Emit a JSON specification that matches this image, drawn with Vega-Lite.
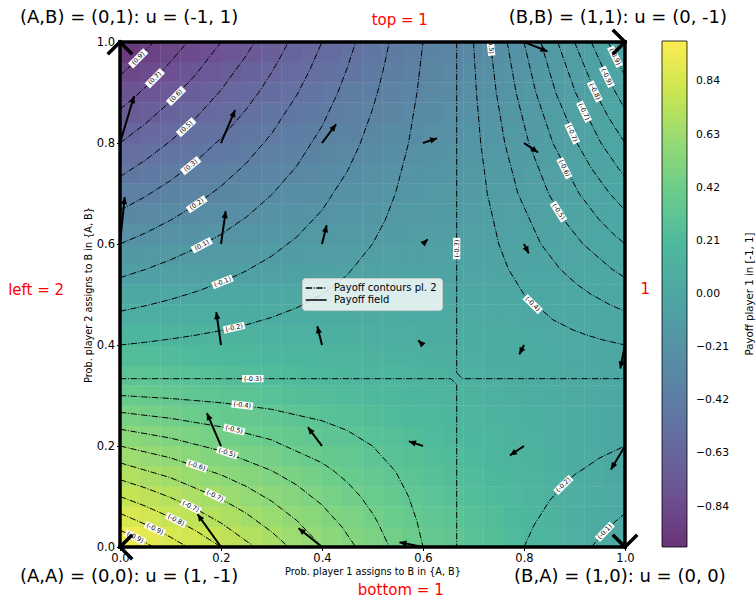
{
"$schema": "https://vega.github.io/schema/vega-lite/v6.json",
"width": 505, "height": 505,
"autosize": {"type": "none"},
"padding": {"left": 120, "top": 42, "right": 131, "bottom": 53},
"background": "white",
"config": {"font": "DejaVu Sans", "view": {"stroke": null},
 "axis": {"domain": false, "grid": false, "ticks": true, "tickSize": 3.5, "tickColor": "black", "labelFontSize": 11.5, "labelColor": "black", "titleFontSize": 9.7, "titleFontWeight": "normal", "titleColor": "black", "labelPadding": 2, "titlePadding": 2, "labelOverlap": false}},
"datasets": {
"heat": [
{"p":0.02,"q":0.02,"u":0.94},{"p":0.06,"q":0.02,"u":0.9},{"p":0.1,"q":0.02,"u":0.86},{"p":0.14,"q":0.02,"u":0.83},{"p":0.18,"q":0.02,"u":0.79},{"p":0.22,"q":0.02,"u":0.75},{"p":0.26,"q":0.02,"u":0.71},{"p":0.3,"q":0.02,"u":0.67},{"p":0.34,"q":0.02,"u":0.63},{"p":0.38,"q":0.02,"u":0.6},{"p":0.42,"q":0.02,"u":0.56},{"p":0.46,"q":0.02,"u":0.52},{"p":0.5,"q":0.02,"u":0.48},{"p":0.54,"q":0.02,"u":0.44},{"p":0.58,"q":0.02,"u":0.4},{"p":0.62,"q":0.02,"u":0.36},{"p":0.66,"q":0.02,"u":0.33},{"p":0.7,"q":0.02,"u":0.29},{"p":0.74,"q":0.02,"u":0.25},{"p":0.78,"q":0.02,"u":0.21},{"p":0.82,"q":0.02,"u":0.17},{"p":0.86,"q":0.02,"u":0.13},{"p":0.9,"q":0.02,"u":0.1},{"p":0.94,"q":0.02,"u":0.06},{"p":0.98,"q":0.02,"u":0.02},
{"p":0.02,"q":0.06,"u":0.86},{"p":0.06,"q":0.06,"u":0.83},{"p":0.1,"q":0.06,"u":0.79},{"p":0.14,"q":0.06,"u":0.76},{"p":0.18,"q":0.06,"u":0.72},{"p":0.22,"q":0.06,"u":0.69},{"p":0.26,"q":0.06,"u":0.65},{"p":0.3,"q":0.06,"u":0.62},{"p":0.34,"q":0.06,"u":0.58},{"p":0.38,"q":0.06,"u":0.55},{"p":0.42,"q":0.06,"u":0.51},{"p":0.46,"q":0.06,"u":0.48},{"p":0.5,"q":0.06,"u":0.44},{"p":0.54,"q":0.06,"u":0.4},{"p":0.58,"q":0.06,"u":0.37},{"p":0.62,"q":0.06,"u":0.33},{"p":0.66,"q":0.06,"u":0.3},{"p":0.7,"q":0.06,"u":0.26},{"p":0.74,"q":0.06,"u":0.23},{"p":0.78,"q":0.06,"u":0.19},{"p":0.82,"q":0.06,"u":0.16},{"p":0.86,"q":0.06,"u":0.12},{"p":0.9,"q":0.06,"u":0.09},{"p":0.94,"q":0.06,"u":0.05},{"p":0.98,"q":0.06,"u":0.02},
{"p":0.02,"q":0.1,"u":0.78},{"p":0.06,"q":0.1,"u":0.75},{"p":0.1,"q":0.1,"u":0.72},{"p":0.14,"q":0.1,"u":0.69},{"p":0.18,"q":0.1,"u":0.66},{"p":0.22,"q":0.1,"u":0.62},{"p":0.26,"q":0.1,"u":0.59},{"p":0.3,"q":0.1,"u":0.56},{"p":0.34,"q":0.1,"u":0.53},{"p":0.38,"q":0.1,"u":0.5},{"p":0.42,"q":0.1,"u":0.46},{"p":0.46,"q":0.1,"u":0.43},{"p":0.5,"q":0.1,"u":0.4},{"p":0.54,"q":0.1,"u":0.37},{"p":0.58,"q":0.1,"u":0.34},{"p":0.62,"q":0.1,"u":0.3},{"p":0.66,"q":0.1,"u":0.27},{"p":0.7,"q":0.1,"u":0.24},{"p":0.74,"q":0.1,"u":0.21},{"p":0.78,"q":0.1,"u":0.18},{"p":0.82,"q":0.1,"u":0.14},{"p":0.86,"q":0.1,"u":0.11},{"p":0.9,"q":0.1,"u":0.08},{"p":0.94,"q":0.1,"u":0.05},{"p":0.98,"q":0.1,"u":0.02},
{"p":0.02,"q":0.14,"u":0.71},{"p":0.06,"q":0.14,"u":0.68},{"p":0.1,"q":0.14,"u":0.65},{"p":0.14,"q":0.14,"u":0.62},{"p":0.18,"q":0.14,"u":0.59},{"p":0.22,"q":0.14,"u":0.56},{"p":0.26,"q":0.14,"u":0.53},{"p":0.3,"q":0.14,"u":0.5},{"p":0.34,"q":0.14,"u":0.48},{"p":0.38,"q":0.14,"u":0.45},{"p":0.42,"q":0.14,"u":0.42},{"p":0.46,"q":0.14,"u":0.39},{"p":0.5,"q":0.14,"u":0.36},{"p":0.54,"q":0.14,"u":0.33},{"p":0.58,"q":0.14,"u":0.3},{"p":0.62,"q":0.14,"u":0.27},{"p":0.66,"q":0.14,"u":0.24},{"p":0.7,"q":0.14,"u":0.22},{"p":0.74,"q":0.14,"u":0.19},{"p":0.78,"q":0.14,"u":0.16},{"p":0.82,"q":0.14,"u":0.13},{"p":0.86,"q":0.14,"u":0.1},{"p":0.9,"q":0.14,"u":0.07},{"p":0.94,"q":0.14,"u":0.04},{"p":0.98,"q":0.14,"u":0.01},
{"p":0.02,"q":0.18,"u":0.63},{"p":0.06,"q":0.18,"u":0.6},{"p":0.1,"q":0.18,"u":0.58},{"p":0.14,"q":0.18,"u":0.55},{"p":0.18,"q":0.18,"u":0.52},{"p":0.22,"q":0.18,"u":0.5},{"p":0.26,"q":0.18,"u":0.47},{"p":0.3,"q":0.18,"u":0.45},{"p":0.34,"q":0.18,"u":0.42},{"p":0.38,"q":0.18,"u":0.4},{"p":0.42,"q":0.18,"u":0.37},{"p":0.46,"q":0.18,"u":0.35},{"p":0.5,"q":0.18,"u":0.32},{"p":0.54,"q":0.18,"u":0.29},{"p":0.58,"q":0.18,"u":0.27},{"p":0.62,"q":0.18,"u":0.24},{"p":0.66,"q":0.18,"u":0.22},{"p":0.7,"q":0.18,"u":0.19},{"p":0.74,"q":0.18,"u":0.17},{"p":0.78,"q":0.18,"u":0.14},{"p":0.82,"q":0.18,"u":0.12},{"p":0.86,"q":0.18,"u":0.09},{"p":0.9,"q":0.18,"u":0.06},{"p":0.94,"q":0.18,"u":0.04},{"p":0.98,"q":0.18,"u":0.01},
{"p":0.02,"q":0.22,"u":0.55},{"p":0.06,"q":0.22,"u":0.53},{"p":0.1,"q":0.22,"u":0.5},{"p":0.14,"q":0.22,"u":0.48},{"p":0.18,"q":0.22,"u":0.46},{"p":0.22,"q":0.22,"u":0.44},{"p":0.26,"q":0.22,"u":0.41},{"p":0.3,"q":0.22,"u":0.39},{"p":0.34,"q":0.22,"u":0.37},{"p":0.38,"q":0.22,"u":0.35},{"p":0.42,"q":0.22,"u":0.32},{"p":0.46,"q":0.22,"u":0.3},{"p":0.5,"q":0.22,"u":0.28},{"p":0.54,"q":0.22,"u":0.26},{"p":0.58,"q":0.22,"u":0.24},{"p":0.62,"q":0.22,"u":0.21},{"p":0.66,"q":0.22,"u":0.19},{"p":0.7,"q":0.22,"u":0.17},{"p":0.74,"q":0.22,"u":0.15},{"p":0.78,"q":0.22,"u":0.12},{"p":0.82,"q":0.22,"u":0.1},{"p":0.86,"q":0.22,"u":0.08},{"p":0.9,"q":0.22,"u":0.06},{"p":0.94,"q":0.22,"u":0.03},{"p":0.98,"q":0.22,"u":0.01},
{"p":0.02,"q":0.26,"u":0.47},{"p":0.06,"q":0.26,"u":0.45},{"p":0.1,"q":0.26,"u":0.43},{"p":0.14,"q":0.26,"u":0.41},{"p":0.18,"q":0.26,"u":0.39},{"p":0.22,"q":0.26,"u":0.37},{"p":0.26,"q":0.26,"u":0.36},{"p":0.3,"q":0.26,"u":0.34},{"p":0.34,"q":0.26,"u":0.32},{"p":0.38,"q":0.26,"u":0.3},{"p":0.42,"q":0.26,"u":0.28},{"p":0.46,"q":0.26,"u":0.26},{"p":0.5,"q":0.26,"u":0.24},{"p":0.54,"q":0.26,"u":0.22},{"p":0.58,"q":0.26,"u":0.2},{"p":0.62,"q":0.26,"u":0.18},{"p":0.66,"q":0.26,"u":0.16},{"p":0.7,"q":0.26,"u":0.14},{"p":0.74,"q":0.26,"u":0.12},{"p":0.78,"q":0.26,"u":0.11},{"p":0.82,"q":0.26,"u":0.09},{"p":0.86,"q":0.26,"u":0.07},{"p":0.9,"q":0.26,"u":0.05},{"p":0.94,"q":0.26,"u":0.03},{"p":0.98,"q":0.26,"u":0.01},
{"p":0.02,"q":0.3,"u":0.39},{"p":0.06,"q":0.3,"u":0.38},{"p":0.1,"q":0.3,"u":0.36},{"p":0.14,"q":0.3,"u":0.34},{"p":0.18,"q":0.3,"u":0.33},{"p":0.22,"q":0.3,"u":0.31},{"p":0.26,"q":0.3,"u":0.3},{"p":0.3,"q":0.3,"u":0.28},{"p":0.34,"q":0.3,"u":0.26},{"p":0.38,"q":0.3,"u":0.25},{"p":0.42,"q":0.3,"u":0.23},{"p":0.46,"q":0.3,"u":0.22},{"p":0.5,"q":0.3,"u":0.2},{"p":0.54,"q":0.3,"u":0.18},{"p":0.58,"q":0.3,"u":0.17},{"p":0.62,"q":0.3,"u":0.15},{"p":0.66,"q":0.3,"u":0.14},{"p":0.7,"q":0.3,"u":0.12},{"p":0.74,"q":0.3,"u":0.1},{"p":0.78,"q":0.3,"u":0.09},{"p":0.82,"q":0.3,"u":0.07},{"p":0.86,"q":0.3,"u":0.06},{"p":0.9,"q":0.3,"u":0.04},{"p":0.94,"q":0.3,"u":0.02},{"p":0.98,"q":0.3,"u":0.01},
{"p":0.02,"q":0.34,"u":0.31},{"p":0.06,"q":0.34,"u":0.3},{"p":0.1,"q":0.34,"u":0.29},{"p":0.14,"q":0.34,"u":0.28},{"p":0.18,"q":0.34,"u":0.26},{"p":0.22,"q":0.34,"u":0.25},{"p":0.26,"q":0.34,"u":0.24},{"p":0.3,"q":0.34,"u":0.22},{"p":0.34,"q":0.34,"u":0.21},{"p":0.38,"q":0.34,"u":0.2},{"p":0.42,"q":0.34,"u":0.19},{"p":0.46,"q":0.34,"u":0.17},{"p":0.5,"q":0.34,"u":0.16},{"p":0.54,"q":0.34,"u":0.15},{"p":0.58,"q":0.34,"u":0.13},{"p":0.62,"q":0.34,"u":0.12},{"p":0.66,"q":0.34,"u":0.11},{"p":0.7,"q":0.34,"u":0.1},{"p":0.74,"q":0.34,"u":0.08},{"p":0.78,"q":0.34,"u":0.07},{"p":0.82,"q":0.34,"u":0.06},{"p":0.86,"q":0.34,"u":0.04},{"p":0.9,"q":0.34,"u":0.03},{"p":0.94,"q":0.34,"u":0.02},{"p":0.98,"q":0.34,"u":0.01},
{"p":0.02,"q":0.38,"u":0.24},{"p":0.06,"q":0.38,"u":0.23},{"p":0.1,"q":0.38,"u":0.22},{"p":0.14,"q":0.38,"u":0.21},{"p":0.18,"q":0.38,"u":0.2},{"p":0.22,"q":0.38,"u":0.19},{"p":0.26,"q":0.38,"u":0.18},{"p":0.3,"q":0.38,"u":0.17},{"p":0.34,"q":0.38,"u":0.16},{"p":0.38,"q":0.38,"u":0.15},{"p":0.42,"q":0.38,"u":0.14},{"p":0.46,"q":0.38,"u":0.13},{"p":0.5,"q":0.38,"u":0.12},{"p":0.54,"q":0.38,"u":0.11},{"p":0.58,"q":0.38,"u":0.1},{"p":0.62,"q":0.38,"u":0.09},{"p":0.66,"q":0.38,"u":0.08},{"p":0.7,"q":0.38,"u":0.07},{"p":0.74,"q":0.38,"u":0.06},{"p":0.78,"q":0.38,"u":0.05},{"p":0.82,"q":0.38,"u":0.04},{"p":0.86,"q":0.38,"u":0.03},{"p":0.9,"q":0.38,"u":0.02},{"p":0.94,"q":0.38,"u":0.01},{"p":0.98,"q":0.38,"u":0},
{"p":0.02,"q":0.42,"u":0.16},{"p":0.06,"q":0.42,"u":0.15},{"p":0.1,"q":0.42,"u":0.14},{"p":0.14,"q":0.42,"u":0.14},{"p":0.18,"q":0.42,"u":0.13},{"p":0.22,"q":0.42,"u":0.12},{"p":0.26,"q":0.42,"u":0.12},{"p":0.3,"q":0.42,"u":0.11},{"p":0.34,"q":0.42,"u":0.11},{"p":0.38,"q":0.42,"u":0.1},{"p":0.42,"q":0.42,"u":0.09},{"p":0.46,"q":0.42,"u":0.09},{"p":0.5,"q":0.42,"u":0.08},{"p":0.54,"q":0.42,"u":0.07},{"p":0.58,"q":0.42,"u":0.07},{"p":0.62,"q":0.42,"u":0.06},{"p":0.66,"q":0.42,"u":0.05},{"p":0.7,"q":0.42,"u":0.05},{"p":0.74,"q":0.42,"u":0.04},{"p":0.78,"q":0.42,"u":0.04},{"p":0.82,"q":0.42,"u":0.03},{"p":0.86,"q":0.42,"u":0.02},{"p":0.9,"q":0.42,"u":0.02},{"p":0.94,"q":0.42,"u":0.01},{"p":0.98,"q":0.42,"u":0},
{"p":0.02,"q":0.46,"u":0.08},{"p":0.06,"q":0.46,"u":0.08},{"p":0.1,"q":0.46,"u":0.07},{"p":0.14,"q":0.46,"u":0.07},{"p":0.18,"q":0.46,"u":0.07},{"p":0.22,"q":0.46,"u":0.06},{"p":0.26,"q":0.46,"u":0.06},{"p":0.3,"q":0.46,"u":0.06},{"p":0.34,"q":0.46,"u":0.05},{"p":0.38,"q":0.46,"u":0.05},{"p":0.42,"q":0.46,"u":0.05},{"p":0.46,"q":0.46,"u":0.04},{"p":0.5,"q":0.46,"u":0.04},{"p":0.54,"q":0.46,"u":0.04},{"p":0.58,"q":0.46,"u":0.03},{"p":0.62,"q":0.46,"u":0.03},{"p":0.66,"q":0.46,"u":0.03},{"p":0.7,"q":0.46,"u":0.02},{"p":0.74,"q":0.46,"u":0.02},{"p":0.78,"q":0.46,"u":0.02},{"p":0.82,"q":0.46,"u":0.01},{"p":0.86,"q":0.46,"u":0.01},{"p":0.9,"q":0.46,"u":0.01},{"p":0.94,"q":0.46,"u":0},{"p":0.98,"q":0.46,"u":0},
{"p":0.02,"q":0.5,"u":0},{"p":0.06,"q":0.5,"u":0},{"p":0.1,"q":0.5,"u":0},{"p":0.14,"q":0.5,"u":0},{"p":0.18,"q":0.5,"u":0},{"p":0.22,"q":0.5,"u":0},{"p":0.26,"q":0.5,"u":0},{"p":0.3,"q":0.5,"u":0},{"p":0.34,"q":0.5,"u":0},{"p":0.38,"q":0.5,"u":0},{"p":0.42,"q":0.5,"u":0},{"p":0.46,"q":0.5,"u":0},{"p":0.5,"q":0.5,"u":0},{"p":0.54,"q":0.5,"u":0},{"p":0.58,"q":0.5,"u":0},{"p":0.62,"q":0.5,"u":0},{"p":0.66,"q":0.5,"u":0},{"p":0.7,"q":0.5,"u":0},{"p":0.74,"q":0.5,"u":0},{"p":0.78,"q":0.5,"u":0},{"p":0.82,"q":0.5,"u":0},{"p":0.86,"q":0.5,"u":0},{"p":0.9,"q":0.5,"u":0},{"p":0.94,"q":0.5,"u":0},{"p":0.98,"q":0.5,"u":0},
{"p":0.02,"q":0.54,"u":-0.08},{"p":0.06,"q":0.54,"u":-0.08},{"p":0.1,"q":0.54,"u":-0.07},{"p":0.14,"q":0.54,"u":-0.07},{"p":0.18,"q":0.54,"u":-0.07},{"p":0.22,"q":0.54,"u":-0.06},{"p":0.26,"q":0.54,"u":-0.06},{"p":0.3,"q":0.54,"u":-0.06},{"p":0.34,"q":0.54,"u":-0.05},{"p":0.38,"q":0.54,"u":-0.05},{"p":0.42,"q":0.54,"u":-0.05},{"p":0.46,"q":0.54,"u":-0.04},{"p":0.5,"q":0.54,"u":-0.04},{"p":0.54,"q":0.54,"u":-0.04},{"p":0.58,"q":0.54,"u":-0.03},{"p":0.62,"q":0.54,"u":-0.03},{"p":0.66,"q":0.54,"u":-0.03},{"p":0.7,"q":0.54,"u":-0.02},{"p":0.74,"q":0.54,"u":-0.02},{"p":0.78,"q":0.54,"u":-0.02},{"p":0.82,"q":0.54,"u":-0.01},{"p":0.86,"q":0.54,"u":-0.01},{"p":0.9,"q":0.54,"u":-0.01},{"p":0.94,"q":0.54,"u":0},{"p":0.98,"q":0.54,"u":0},
{"p":0.02,"q":0.58,"u":-0.16},{"p":0.06,"q":0.58,"u":-0.15},{"p":0.1,"q":0.58,"u":-0.14},{"p":0.14,"q":0.58,"u":-0.14},{"p":0.18,"q":0.58,"u":-0.13},{"p":0.22,"q":0.58,"u":-0.12},{"p":0.26,"q":0.58,"u":-0.12},{"p":0.3,"q":0.58,"u":-0.11},{"p":0.34,"q":0.58,"u":-0.11},{"p":0.38,"q":0.58,"u":-0.1},{"p":0.42,"q":0.58,"u":-0.09},{"p":0.46,"q":0.58,"u":-0.09},{"p":0.5,"q":0.58,"u":-0.08},{"p":0.54,"q":0.58,"u":-0.07},{"p":0.58,"q":0.58,"u":-0.07},{"p":0.62,"q":0.58,"u":-0.06},{"p":0.66,"q":0.58,"u":-0.05},{"p":0.7,"q":0.58,"u":-0.05},{"p":0.74,"q":0.58,"u":-0.04},{"p":0.78,"q":0.58,"u":-0.04},{"p":0.82,"q":0.58,"u":-0.03},{"p":0.86,"q":0.58,"u":-0.02},{"p":0.9,"q":0.58,"u":-0.02},{"p":0.94,"q":0.58,"u":-0.01},{"p":0.98,"q":0.58,"u":0},
{"p":0.02,"q":0.62,"u":-0.24},{"p":0.06,"q":0.62,"u":-0.23},{"p":0.1,"q":0.62,"u":-0.22},{"p":0.14,"q":0.62,"u":-0.21},{"p":0.18,"q":0.62,"u":-0.2},{"p":0.22,"q":0.62,"u":-0.19},{"p":0.26,"q":0.62,"u":-0.18},{"p":0.3,"q":0.62,"u":-0.17},{"p":0.34,"q":0.62,"u":-0.16},{"p":0.38,"q":0.62,"u":-0.15},{"p":0.42,"q":0.62,"u":-0.14},{"p":0.46,"q":0.62,"u":-0.13},{"p":0.5,"q":0.62,"u":-0.12},{"p":0.54,"q":0.62,"u":-0.11},{"p":0.58,"q":0.62,"u":-0.1},{"p":0.62,"q":0.62,"u":-0.09},{"p":0.66,"q":0.62,"u":-0.08},{"p":0.7,"q":0.62,"u":-0.07},{"p":0.74,"q":0.62,"u":-0.06},{"p":0.78,"q":0.62,"u":-0.05},{"p":0.82,"q":0.62,"u":-0.04},{"p":0.86,"q":0.62,"u":-0.03},{"p":0.9,"q":0.62,"u":-0.02},{"p":0.94,"q":0.62,"u":-0.01},{"p":0.98,"q":0.62,"u":0},
{"p":0.02,"q":0.66,"u":-0.31},{"p":0.06,"q":0.66,"u":-0.3},{"p":0.1,"q":0.66,"u":-0.29},{"p":0.14,"q":0.66,"u":-0.28},{"p":0.18,"q":0.66,"u":-0.26},{"p":0.22,"q":0.66,"u":-0.25},{"p":0.26,"q":0.66,"u":-0.24},{"p":0.3,"q":0.66,"u":-0.22},{"p":0.34,"q":0.66,"u":-0.21},{"p":0.38,"q":0.66,"u":-0.2},{"p":0.42,"q":0.66,"u":-0.19},{"p":0.46,"q":0.66,"u":-0.17},{"p":0.5,"q":0.66,"u":-0.16},{"p":0.54,"q":0.66,"u":-0.15},{"p":0.58,"q":0.66,"u":-0.13},{"p":0.62,"q":0.66,"u":-0.12},{"p":0.66,"q":0.66,"u":-0.11},{"p":0.7,"q":0.66,"u":-0.1},{"p":0.74,"q":0.66,"u":-0.08},{"p":0.78,"q":0.66,"u":-0.07},{"p":0.82,"q":0.66,"u":-0.06},{"p":0.86,"q":0.66,"u":-0.04},{"p":0.9,"q":0.66,"u":-0.03},{"p":0.94,"q":0.66,"u":-0.02},{"p":0.98,"q":0.66,"u":-0.01},
{"p":0.02,"q":0.7,"u":-0.39},{"p":0.06,"q":0.7,"u":-0.38},{"p":0.1,"q":0.7,"u":-0.36},{"p":0.14,"q":0.7,"u":-0.34},{"p":0.18,"q":0.7,"u":-0.33},{"p":0.22,"q":0.7,"u":-0.31},{"p":0.26,"q":0.7,"u":-0.3},{"p":0.3,"q":0.7,"u":-0.28},{"p":0.34,"q":0.7,"u":-0.26},{"p":0.38,"q":0.7,"u":-0.25},{"p":0.42,"q":0.7,"u":-0.23},{"p":0.46,"q":0.7,"u":-0.22},{"p":0.5,"q":0.7,"u":-0.2},{"p":0.54,"q":0.7,"u":-0.18},{"p":0.58,"q":0.7,"u":-0.17},{"p":0.62,"q":0.7,"u":-0.15},{"p":0.66,"q":0.7,"u":-0.14},{"p":0.7,"q":0.7,"u":-0.12},{"p":0.74,"q":0.7,"u":-0.1},{"p":0.78,"q":0.7,"u":-0.09},{"p":0.82,"q":0.7,"u":-0.07},{"p":0.86,"q":0.7,"u":-0.06},{"p":0.9,"q":0.7,"u":-0.04},{"p":0.94,"q":0.7,"u":-0.02},{"p":0.98,"q":0.7,"u":-0.01},
{"p":0.02,"q":0.74,"u":-0.47},{"p":0.06,"q":0.74,"u":-0.45},{"p":0.1,"q":0.74,"u":-0.43},{"p":0.14,"q":0.74,"u":-0.41},{"p":0.18,"q":0.74,"u":-0.39},{"p":0.22,"q":0.74,"u":-0.37},{"p":0.26,"q":0.74,"u":-0.36},{"p":0.3,"q":0.74,"u":-0.34},{"p":0.34,"q":0.74,"u":-0.32},{"p":0.38,"q":0.74,"u":-0.3},{"p":0.42,"q":0.74,"u":-0.28},{"p":0.46,"q":0.74,"u":-0.26},{"p":0.5,"q":0.74,"u":-0.24},{"p":0.54,"q":0.74,"u":-0.22},{"p":0.58,"q":0.74,"u":-0.2},{"p":0.62,"q":0.74,"u":-0.18},{"p":0.66,"q":0.74,"u":-0.16},{"p":0.7,"q":0.74,"u":-0.14},{"p":0.74,"q":0.74,"u":-0.12},{"p":0.78,"q":0.74,"u":-0.11},{"p":0.82,"q":0.74,"u":-0.09},{"p":0.86,"q":0.74,"u":-0.07},{"p":0.9,"q":0.74,"u":-0.05},{"p":0.94,"q":0.74,"u":-0.03},{"p":0.98,"q":0.74,"u":-0.01},
{"p":0.02,"q":0.78,"u":-0.55},{"p":0.06,"q":0.78,"u":-0.53},{"p":0.1,"q":0.78,"u":-0.5},{"p":0.14,"q":0.78,"u":-0.48},{"p":0.18,"q":0.78,"u":-0.46},{"p":0.22,"q":0.78,"u":-0.44},{"p":0.26,"q":0.78,"u":-0.41},{"p":0.3,"q":0.78,"u":-0.39},{"p":0.34,"q":0.78,"u":-0.37},{"p":0.38,"q":0.78,"u":-0.35},{"p":0.42,"q":0.78,"u":-0.32},{"p":0.46,"q":0.78,"u":-0.3},{"p":0.5,"q":0.78,"u":-0.28},{"p":0.54,"q":0.78,"u":-0.26},{"p":0.58,"q":0.78,"u":-0.24},{"p":0.62,"q":0.78,"u":-0.21},{"p":0.66,"q":0.78,"u":-0.19},{"p":0.7,"q":0.78,"u":-0.17},{"p":0.74,"q":0.78,"u":-0.15},{"p":0.78,"q":0.78,"u":-0.12},{"p":0.82,"q":0.78,"u":-0.1},{"p":0.86,"q":0.78,"u":-0.08},{"p":0.9,"q":0.78,"u":-0.06},{"p":0.94,"q":0.78,"u":-0.03},{"p":0.98,"q":0.78,"u":-0.01},
{"p":0.02,"q":0.82,"u":-0.63},{"p":0.06,"q":0.82,"u":-0.6},{"p":0.1,"q":0.82,"u":-0.58},{"p":0.14,"q":0.82,"u":-0.55},{"p":0.18,"q":0.82,"u":-0.52},{"p":0.22,"q":0.82,"u":-0.5},{"p":0.26,"q":0.82,"u":-0.47},{"p":0.3,"q":0.82,"u":-0.45},{"p":0.34,"q":0.82,"u":-0.42},{"p":0.38,"q":0.82,"u":-0.4},{"p":0.42,"q":0.82,"u":-0.37},{"p":0.46,"q":0.82,"u":-0.35},{"p":0.5,"q":0.82,"u":-0.32},{"p":0.54,"q":0.82,"u":-0.29},{"p":0.58,"q":0.82,"u":-0.27},{"p":0.62,"q":0.82,"u":-0.24},{"p":0.66,"q":0.82,"u":-0.22},{"p":0.7,"q":0.82,"u":-0.19},{"p":0.74,"q":0.82,"u":-0.17},{"p":0.78,"q":0.82,"u":-0.14},{"p":0.82,"q":0.82,"u":-0.12},{"p":0.86,"q":0.82,"u":-0.09},{"p":0.9,"q":0.82,"u":-0.06},{"p":0.94,"q":0.82,"u":-0.04},{"p":0.98,"q":0.82,"u":-0.01},
{"p":0.02,"q":0.86,"u":-0.71},{"p":0.06,"q":0.86,"u":-0.68},{"p":0.1,"q":0.86,"u":-0.65},{"p":0.14,"q":0.86,"u":-0.62},{"p":0.18,"q":0.86,"u":-0.59},{"p":0.22,"q":0.86,"u":-0.56},{"p":0.26,"q":0.86,"u":-0.53},{"p":0.3,"q":0.86,"u":-0.5},{"p":0.34,"q":0.86,"u":-0.48},{"p":0.38,"q":0.86,"u":-0.45},{"p":0.42,"q":0.86,"u":-0.42},{"p":0.46,"q":0.86,"u":-0.39},{"p":0.5,"q":0.86,"u":-0.36},{"p":0.54,"q":0.86,"u":-0.33},{"p":0.58,"q":0.86,"u":-0.3},{"p":0.62,"q":0.86,"u":-0.27},{"p":0.66,"q":0.86,"u":-0.24},{"p":0.7,"q":0.86,"u":-0.22},{"p":0.74,"q":0.86,"u":-0.19},{"p":0.78,"q":0.86,"u":-0.16},{"p":0.82,"q":0.86,"u":-0.13},{"p":0.86,"q":0.86,"u":-0.1},{"p":0.9,"q":0.86,"u":-0.07},{"p":0.94,"q":0.86,"u":-0.04},{"p":0.98,"q":0.86,"u":-0.01},
{"p":0.02,"q":0.9,"u":-0.78},{"p":0.06,"q":0.9,"u":-0.75},{"p":0.1,"q":0.9,"u":-0.72},{"p":0.14,"q":0.9,"u":-0.69},{"p":0.18,"q":0.9,"u":-0.66},{"p":0.22,"q":0.9,"u":-0.62},{"p":0.26,"q":0.9,"u":-0.59},{"p":0.3,"q":0.9,"u":-0.56},{"p":0.34,"q":0.9,"u":-0.53},{"p":0.38,"q":0.9,"u":-0.5},{"p":0.42,"q":0.9,"u":-0.46},{"p":0.46,"q":0.9,"u":-0.43},{"p":0.5,"q":0.9,"u":-0.4},{"p":0.54,"q":0.9,"u":-0.37},{"p":0.58,"q":0.9,"u":-0.34},{"p":0.62,"q":0.9,"u":-0.3},{"p":0.66,"q":0.9,"u":-0.27},{"p":0.7,"q":0.9,"u":-0.24},{"p":0.74,"q":0.9,"u":-0.21},{"p":0.78,"q":0.9,"u":-0.18},{"p":0.82,"q":0.9,"u":-0.14},{"p":0.86,"q":0.9,"u":-0.11},{"p":0.9,"q":0.9,"u":-0.08},{"p":0.94,"q":0.9,"u":-0.05},{"p":0.98,"q":0.9,"u":-0.02},
{"p":0.02,"q":0.94,"u":-0.86},{"p":0.06,"q":0.94,"u":-0.83},{"p":0.1,"q":0.94,"u":-0.79},{"p":0.14,"q":0.94,"u":-0.76},{"p":0.18,"q":0.94,"u":-0.72},{"p":0.22,"q":0.94,"u":-0.69},{"p":0.26,"q":0.94,"u":-0.65},{"p":0.3,"q":0.94,"u":-0.62},{"p":0.34,"q":0.94,"u":-0.58},{"p":0.38,"q":0.94,"u":-0.55},{"p":0.42,"q":0.94,"u":-0.51},{"p":0.46,"q":0.94,"u":-0.48},{"p":0.5,"q":0.94,"u":-0.44},{"p":0.54,"q":0.94,"u":-0.4},{"p":0.58,"q":0.94,"u":-0.37},{"p":0.62,"q":0.94,"u":-0.33},{"p":0.66,"q":0.94,"u":-0.3},{"p":0.7,"q":0.94,"u":-0.26},{"p":0.74,"q":0.94,"u":-0.23},{"p":0.78,"q":0.94,"u":-0.19},{"p":0.82,"q":0.94,"u":-0.16},{"p":0.86,"q":0.94,"u":-0.12},{"p":0.9,"q":0.94,"u":-0.09},{"p":0.94,"q":0.94,"u":-0.05},{"p":0.98,"q":0.94,"u":-0.02},
{"p":0.02,"q":0.98,"u":-0.94},{"p":0.06,"q":0.98,"u":-0.9},{"p":0.1,"q":0.98,"u":-0.86},{"p":0.14,"q":0.98,"u":-0.83},{"p":0.18,"q":0.98,"u":-0.79},{"p":0.22,"q":0.98,"u":-0.75},{"p":0.26,"q":0.98,"u":-0.71},{"p":0.3,"q":0.98,"u":-0.67},{"p":0.34,"q":0.98,"u":-0.63},{"p":0.38,"q":0.98,"u":-0.6},{"p":0.42,"q":0.98,"u":-0.56},{"p":0.46,"q":0.98,"u":-0.52},{"p":0.5,"q":0.98,"u":-0.48},{"p":0.54,"q":0.98,"u":-0.44},{"p":0.58,"q":0.98,"u":-0.4},{"p":0.62,"q":0.98,"u":-0.36},{"p":0.66,"q":0.98,"u":-0.33},{"p":0.7,"q":0.98,"u":-0.29},{"p":0.74,"q":0.98,"u":-0.25},{"p":0.78,"q":0.98,"u":-0.21},{"p":0.82,"q":0.98,"u":-0.17},{"p":0.86,"q":0.98,"u":-0.13},{"p":0.9,"q":0.98,"u":-0.1},{"p":0.94,"q":0.98,"u":-0.06},{"p":0.98,"q":0.98,"u":-0.02}
],
"cont": [
{"c":"T1","p":0,"q":0.9333},{"c":"T1","p":0.0333,"q":0.9649},{"c":"T1","p":0.0667,"q":1},
{"c":"T2","p":0,"q":0.8667},{"c":"T2","p":0.0333,"q":0.8947},{"c":"T2","p":0.0667,"q":0.9259},{"c":"T2","p":0.1,"q":0.9608},{"c":"T2","p":0.1333,"q":1},
{"c":"T3","p":0,"q":0.8},{"c":"T3","p":0.05,"q":0.8378},{"c":"T3","p":0.1,"q":0.8824},{"c":"T3","p":0.15,"q":0.9355},{"c":"T3","p":0.2,"q":1},
{"c":"T4","p":0,"q":0.7333},{"c":"T4","p":0.05,"q":0.7658},{"c":"T4","p":0.1,"q":0.8039},{"c":"T4","p":0.15,"q":0.8495},{"c":"T4","p":0.2,"q":0.9048},{"c":"T4","p":0.25,"q":0.9733},{"c":"T4","p":0.2667,"q":1},
{"c":"T5","p":0,"q":0.6667},{"c":"T5","p":0.05,"q":0.6937},{"c":"T5","p":0.1,"q":0.7255},{"c":"T5","p":0.15,"q":0.7634},{"c":"T5","p":0.2,"q":0.8095},{"c":"T5","p":0.25,"q":0.8667},{"c":"T5","p":0.275,"q":0.9007},{"c":"T5","p":0.3,"q":0.9394},{"c":"T5","p":0.3167,"q":0.9682},{"c":"T5","p":0.3333,"q":1},
{"c":"T6","p":0,"q":0.6},{"c":"T6","p":0.05,"q":0.6216},{"c":"T6","p":0.1,"q":0.6471},{"c":"T6","p":0.15,"q":0.6774},{"c":"T6","p":0.2,"q":0.7143},{"c":"T6","p":0.25,"q":0.76},{"c":"T6","p":0.3,"q":0.8182},{"c":"T6","p":0.35,"q":0.8947},{"c":"T6","p":0.375,"q":0.9429},{"c":"T6","p":0.4,"q":1},
{"c":"T7","p":0,"q":0.5333},{"c":"T7","p":0.05,"q":0.5496},{"c":"T7","p":0.1,"q":0.5686},{"c":"T7","p":0.15,"q":0.5914},{"c":"T7","p":0.2,"q":0.619},{"c":"T7","p":0.25,"q":0.6533},{"c":"T7","p":0.3,"q":0.697},{"c":"T7","p":0.35,"q":0.7544},{"c":"T7","p":0.4,"q":0.8333},{"c":"T7","p":0.43,"q":0.8968},{"c":"T7","p":0.45,"q":0.9488},{"c":"T7","p":0.4667,"q":1},
{"c":"T8","p":0,"q":0.4667},{"c":"T8","p":0.05,"q":0.4775},{"c":"T8","p":0.1,"q":0.4902},{"c":"T8","p":0.15,"q":0.5054},{"c":"T8","p":0.2,"q":0.5238},{"c":"T8","p":0.25,"q":0.5467},{"c":"T8","p":0.3,"q":0.5758},{"c":"T8","p":0.35,"q":0.614},{"c":"T8","p":0.4,"q":0.6667},{"c":"T8","p":0.45,"q":0.7436},{"c":"T8","p":0.475,"q":0.7971},{"c":"T8","p":0.5,"q":0.8667},{"c":"T8","p":0.51,"q":0.9006},{"c":"T8","p":0.52,"q":0.9394},{"c":"T8","p":0.5333,"q":1},
{"c":"T9","p":0,"q":0.4},{"c":"T9","p":0.05,"q":0.4054},{"c":"T9","p":0.1,"q":0.4118},{"c":"T9","p":0.15,"q":0.4194},{"c":"T9","p":0.2,"q":0.4286},{"c":"T9","p":0.25,"q":0.44},{"c":"T9","p":0.3,"q":0.4545},{"c":"T9","p":0.35,"q":0.4737},{"c":"T9","p":0.4,"q":0.5},{"c":"T9","p":0.45,"q":0.5385},{"c":"T9","p":0.5,"q":0.6},{"c":"T9","p":0.525,"q":0.6471},{"c":"T9","p":0.5455,"q":0.7},{"c":"T9","p":0.5714,"q":0.8},{"c":"T9","p":0.5882,"q":0.9},{"c":"T9","p":0.6,"q":1},
{"c":"R1","p":0.8,"q":0},{"c":"R1","p":0.82,"q":0.0435},{"c":"R1","p":0.85,"q":0.0909},{"c":"R1","p":0.875,"q":0.12},{"c":"R1","p":0.9,"q":0.1429},{"c":"R1","p":0.95,"q":0.1765},{"c":"R1","p":1,"q":0.2},
{"c":"R2","p":0.9333,"q":0},{"c":"R2","p":0.96,"q":0.0303},{"c":"R2","p":0.98,"q":0.0496},{"c":"R2","p":1,"q":0.0667},
{"c":"B1","p":0,"q":0.3},{"c":"B1","p":0.1,"q":0.2941},{"c":"B1","p":0.2,"q":0.2857},{"c":"B1","p":0.3,"q":0.2727},{"c":"B1","p":0.4,"q":0.25},{"c":"B1","p":0.45,"q":0.2308},{"c":"B1","p":0.5,"q":0.2},{"c":"B1","p":0.5455,"q":0.15},{"c":"B1","p":0.5714,"q":0.1},{"c":"B1","p":0.5882,"q":0.05},{"c":"B1","p":0.6,"q":0},
{"c":"B2","p":0,"q":0.2667},{"c":"B2","p":0.1,"q":0.2549},{"c":"B2","p":0.2,"q":0.2381},{"c":"B2","p":0.3,"q":0.2121},{"c":"B2","p":0.4,"q":0.1667},{"c":"B2","p":0.4242,"q":0.15},{"c":"B2","p":0.45,"q":0.1282},{"c":"B2","p":0.4762,"q":0.1},{"c":"B2","p":0.5,"q":0.0667},{"c":"B2","p":0.5098,"q":0.05},{"c":"B2","p":0.5333,"q":0},
{"c":"B3","p":0,"q":0.2333},{"c":"B3","p":0.1,"q":0.2157},{"c":"B3","p":0.2,"q":0.1905},{"c":"B3","p":0.3,"q":0.1515},{"c":"B3","p":0.35,"q":0.1228},{"c":"B3","p":0.4,"q":0.0833},{"c":"B3","p":0.44,"q":0.0392},{"c":"B3","p":0.4667,"q":0},
{"c":"B4","p":0,"q":0.2},{"c":"B4","p":0.1,"q":0.1765},{"c":"B4","p":0.2,"q":0.1429},{"c":"B4","p":0.25,"q":0.12},{"c":"B4","p":0.3,"q":0.0909},{"c":"B4","p":0.35,"q":0.0526},{"c":"B4","p":0.4,"q":0},
{"c":"B5","p":0,"q":0.1667},{"c":"B5","p":0.1,"q":0.1373},{"c":"B5","p":0.2,"q":0.0952},{"c":"B5","p":0.25,"q":0.0667},{"c":"B5","p":0.3,"q":0.0303},{"c":"B5","p":0.3333,"q":0},
{"c":"B6","p":0,"q":0.1333},{"c":"B6","p":0.05,"q":0.1171},{"c":"B6","p":0.1,"q":0.098},{"c":"B6","p":0.15,"q":0.0753},{"c":"B6","p":0.2,"q":0.0476},{"c":"B6","p":0.2667,"q":0},
{"c":"B7","p":0,"q":0.1},{"c":"B7","p":0.05,"q":0.0811},{"c":"B7","p":0.1,"q":0.0588},{"c":"B7","p":0.15,"q":0.0323},{"c":"B7","p":0.2,"q":0},
{"c":"B8","p":0,"q":0.0667},{"c":"B8","p":0.05,"q":0.045},{"c":"B8","p":0.1,"q":0.0196},{"c":"B8","p":0.1333,"q":0},
{"c":"B9","p":0,"q":0.0333},{"c":"B9","p":0.0333,"q":0.0175},{"c":"B9","p":0.0667,"q":0},
{"c":"U1","p":0.7,"q":1},{"c":"U1","p":0.7059,"q":0.9},{"c":"U1","p":0.7143,"q":0.8},{"c":"U1","p":0.7273,"q":0.7},{"c":"U1","p":0.75,"q":0.6},{"c":"U1","p":0.7692,"q":0.55},{"c":"U1","p":0.8,"q":0.5},{"c":"U1","p":0.8571,"q":0.45},{"c":"U1","p":0.8966,"q":0.43},{"c":"U1","p":0.9231,"q":0.42},{"c":"U1","p":0.9565,"q":0.41},{"c":"U1","p":1,"q":0.4},
{"c":"U2","p":0.7333,"q":1},{"c":"U2","p":0.7451,"q":0.9},{"c":"U2","p":0.7619,"q":0.8},{"c":"U2","p":0.7879,"q":0.7},{"c":"U2","p":0.8333,"q":0.6},{"c":"U2","p":0.8718,"q":0.55},{"c":"U2","p":0.9048,"q":0.52},{"c":"U2","p":0.9333,"q":0.5},{"c":"U2","p":0.9697,"q":0.48},{"c":"U2","p":1,"q":0.4667},
{"c":"U3","p":0.7667,"q":1},{"c":"U3","p":0.7843,"q":0.9},{"c":"U3","p":0.8095,"q":0.8},{"c":"U3","p":0.8485,"q":0.7},{"c":"U3","p":0.8772,"q":0.65},{"c":"U3","p":0.9167,"q":0.6},{"c":"U3","p":0.9744,"q":0.55},{"c":"U3","p":1,"q":0.5333},
{"c":"U4","p":0.8,"q":1},{"c":"U4","p":0.8235,"q":0.9},{"c":"U4","p":0.8571,"q":0.8},{"c":"U4","p":0.9091,"q":0.7},{"c":"U4","p":0.9474,"q":0.65},{"c":"U4","p":0.9767,"q":0.62},{"c":"U4","p":1,"q":0.6},
{"c":"U5","p":0.8333,"q":1},{"c":"U5","p":0.8627,"q":0.9},{"c":"U5","p":0.9048,"q":0.8},{"c":"U5","p":0.9333,"q":0.75},{"c":"U5","p":0.9697,"q":0.7},{"c":"U5","p":1,"q":0.6667},
{"c":"U6","p":0.8667,"q":1},{"c":"U6","p":0.902,"q":0.9},{"c":"U6","p":0.9524,"q":0.8},{"c":"U6","p":0.9867,"q":0.75},{"c":"U6","p":1,"q":0.7333},
{"c":"U7","p":0.9,"q":1},{"c":"U7","p":0.9412,"q":0.9},{"c":"U7","p":0.9677,"q":0.85},{"c":"U7","p":1,"q":0.8},
{"c":"U8","p":0.9333,"q":1},{"c":"U8","p":0.963,"q":0.9333},{"c":"U8","p":1,"q":0.8667},
{"c":"U9","p":0.9667,"q":1},{"c":"U9","p":0.9825,"q":0.9667},{"c":"U9","p":1,"q":0.9333},
{"c":"X1","p":0,"q":0.3333},{"c":"X1","p":0.655,"q":0.3333},{"c":"X1","p":0.6667,"q":0.3217},
{"c":"X2","p":0.6667,"q":0.3217},{"c":"X2","p":0.6667,"q":0},
{"c":"X3","p":0.6667,"q":1},{"c":"X3","p":0.6667,"q":0.345},
{"c":"X4","p":0.6667,"q":0.345},{"c":"X4","p":0.678,"q":0.3333},{"c":"X4","p":1,"q":0.3333}
],
"lab": [
{"p":0.036,"q":0.9676,"t":"(0.9)","a":-45},{"p":0.069,"q":0.9282,"t":"(0.7)","a":-45},{"p":0.111,"q":0.8932,"t":"(0.6)","a":-45},{"p":0.131,"q":0.8312,"t":"(0.5)","a":-43},{"p":0.14,"q":0.7553,"t":"(0.3)","a":-39},{"p":0.152,"q":0.6788,"t":"(0.2)","a":-34},{"p":0.162,"q":0.5976,"t":"(0.1)","a":-28},{"p":0.203,"q":0.525,"t":"(-0.1)","a":-22},{"p":0.226,"q":0.4342,"t":"(-0.2)","a":-13},{"p":0.263,"q":0.3333,"t":"(-0.3)","a":0},{"p":0.6667,"q":0.591,"t":"(-0.3)","a":-90},
{"p":0.242,"q":0.281,"t":"(-0.4)","a":7},{"p":0.226,"q":0.2325,"t":"(-0.5)","a":13},{"p":0.212,"q":0.1867,"t":"(-0.5)","a":18},{"p":0.152,"q":0.1606,"t":"(-0.6)","a":18},{"p":0.188,"q":0.1012,"t":"(-0.7)","a":26},{"p":0.14,"q":0.0802,"t":"(-0.7)","a":26},{"p":0.111,"q":0.0534,"t":"(-0.8)","a":27},{"p":0.069,"q":0.0359,"t":"(-0.9)","a":26},{"p":0.03,"q":0.0192,"t":"(-0.9)","a":26},
{"p":0.878,"q":0.123,"t":"(-0.2)","a":-45},{"p":0.96,"q":0.0303,"t":"(-0.1)","a":-46},
{"p":0.8172,"q":0.481,"t":"(-0.4)","a":44},{"p":0.8683,"q":0.664,"t":"(-0.5)","a":58},{"p":0.734,"q":0.994,"t":"(-0.5)","a":84},{"p":0.88,"q":0.75,"t":"(-0.6)","a":63},{"p":0.8955,"q":0.819,"t":"(-0.7)","a":65},{"p":0.9189,"q":0.862,"t":"(-0.7)","a":64},{"p":0.9402,"q":0.902,"t":"(-0.8)","a":64},{"p":0.9641,"q":0.931,"t":"(-0.9)","a":64},{"p":0.9803,"q":0.971,"t":"(-0.9)","a":64}
],
"arr": [
{"p":0.1535,"q":0.0651,"p2":0.2,"q2":0,"ang":-35.5},{"p":0.3535,"q":0.0372,"p2":0.4,"q2":0,"ang":-51.3},{"p":0.5535,"q":0.0093,"p2":0.6,"q2":0,"ang":-78.7},
{"p":0.1721,"q":0.2651,"p2":0.2,"q2":0.2,"ang":-23.2},{"p":0.3721,"q":0.2372,"p2":0.4,"q2":0.2,"ang":-36.9},{"p":0.5721,"q":0.2093,"p2":0.6,"q2":0.2,"ang":-71.6},{"p":0.7721,"q":0.1814,"p2":0.8,"q2":0.2,"ang":-123.7},{"p":0.9721,"q":0.1535,"p2":1,"q2":0.2,"ang":-149},
{"p":0.1907,"q":0.4651,"p2":0.2,"q2":0.4,"ang":-8.1},{"p":0.3907,"q":0.4372,"p2":0.4,"q2":0.4,"ang":-14},{"p":0.5907,"q":0.4093,"p2":0.6,"q2":0.4,"ang":-45},{"p":0.7907,"q":0.3814,"p2":0.8,"q2":0.4,"ang":-153.4},{"p":0.9907,"q":0.3535,"p2":1,"q2":0.4,"ang":-168.7},
{"p":0.0093,"q":0.693,"p2":0,"q2":0.6,"ang":5.7},{"p":0.2093,"q":0.6651,"p2":0.2,"q2":0.6,"ang":8.1},{"p":0.4093,"q":0.6372,"p2":0.4,"q2":0.6,"ang":14},{"p":0.6093,"q":0.6093,"p2":0.6,"q2":0.6,"ang":45},{"p":0.8093,"q":0.5814,"p2":0.8,"q2":0.6,"ang":153.4},
{"p":0.0279,"q":0.893,"p2":0,"q2":0.8,"ang":16.7},{"p":0.2279,"q":0.8651,"p2":0.2,"q2":0.8,"ang":23.2},{"p":0.4279,"q":0.8372,"p2":0.4,"q2":0.8,"ang":36.9},{"p":0.6279,"q":0.8093,"p2":0.6,"q2":0.8,"ang":71.6},{"p":0.8279,"q":0.7814,"p2":0.8,"q2":0.8,"ang":123.7},
{"p":0.8465,"q":0.9814,"p2":0.8,"q2":1,"ang":111.8}
],
"edge": [{"p":0,"q":0,"p2":1,"q2":0},{"p":1,"q":0,"p2":1,"q2":1},{"p":0,"q":1,"p2":1,"q2":1},{"p":0,"q":0,"p2":0,"q2":1}],
"corner": [{"p":0,"q":1,"ang":0},{"p":1,"q":1,"ang":90},{"p":1,"q":0,"ang":180},{"p":0,"q":0,"ang":270}],
"txtb": [{"p":0.018,"q":1.047,"t":"(A,B) = (0,1): u = (-1, 1)"},{"p":0.986,"q":1.047,"t":"(B,B) = (1,1): u = (0, -1)"},{"p":0.018,"q":-0.0594,"t":"(A,A) = (0,0): u = (1, -1)"},{"p":0.99,"q":-0.0594,"t":"(B,A) = (1,0): u = (0, 0)"}],
"txtr": [{"p":0.554,"q":1.044,"t":"top = 1"},{"p":-0.166,"q":0.509,"t":"left = 2"},{"p":1.04,"q":0.511,"t":"1"},{"p":0.556,"q":-0.085,"t":"bottom = 1"}],
"cbt": [{"p":1.2475,"q":0.501,"t":"Payoff player 1 in [-1, 1]"}]
},
"encoding": {
 "x": {"field": "p", "type": "quantitative", "scale": {"domain": [0, 1], "nice": false, "zero": false}, "axis": {"title": "Prob. player 1 assigns to B in {A, B}", "values": [0, 0.2, 0.4, 0.6, 0.8, 1], "format": ".1f", "labelFlush": false}},
 "y": {"field": "q", "type": "quantitative", "scale": {"domain": [0, 1], "nice": false, "zero": false}, "axis": {"title": "Prob. player 2 assigns to B in {A, B}", "values": [0, 0.2, 0.4, 0.6, 0.8, 1], "format": ".1f", "labelFlush": false, "titlePadding": 3}}
},
"layer": [
{"data": {"name": "heat"}, "mark": {"type": "square", "size": 424, "opacity": 1, "strokeWidth": 0, "clip": true},
 "encoding": {"color": {"field": "u", "type": "quantitative",
  "scale": {"domain": [-1, 1], "range": ["#693476", "#6d5091", "#67699f", "#5d7fa4", "#5593a5", "#4da7a3", "#4eb99d", "#69cc8d", "#95da74", "#cae551", "#fdec51"], "interpolate": "rgb"},
  "legend": {"title": null, "orient": "none", "legendX": 542, "legendY": -1, "direction": "vertical", "gradientLength": 506, "gradientThickness": 25, "gradientStrokeColor": "black", "gradientStrokeWidth": 0.8, "values": [-0.84, -0.63, -0.42, -0.21, 0, 0.21, 0.42, 0.63, 0.84], "format": ".2f", "labelFontSize": 10.8, "labelColor": "black", "labelOffset": 9, "labelOverlap": false, "padding": 0}}}},
{"data": {"name": "cont"}, "mark": {"type": "line", "color": "black", "strokeWidth": 1, "clip": true},
 "encoding": {"detail": {"field": "c"},
  "strokeDash": {"datum": "Payoff contours pl. 2", "type": "nominal", "scale": {"domain": ["Payoff contours pl. 2", "Payoff field"], "range": [[6.4, 1.6, 1, 1.6], [1, 0]]},
   "legend": {"title": null, "orient": "none", "legendX": 182, "legendY": 236, "symbolType": "M-1.5,0L3.5,0", "symbolSize": 70, "symbolStrokeWidth": 1.5, "symbolStrokeColor": "black", "labelFontSize": 10, "labelColor": "black", "fillColor": "rgba(255,255,255,0.8)", "strokeColor": "#cccccc", "cornerRadius": 3, "padding": 5, "rowPadding": 2, "labelOffset": 17}}}},
{"data": {"name": "lab"}, "mark": {"type": "point", "shape": "M-1,-0.34L1,-0.34L1,0.34L-1,0.34Z", "size": 460, "filled": true, "color": "white", "opacity": 1, "strokeWidth": 0, "clip": true},
 "encoding": {"angle": {"field": "a", "type": "quantitative", "scale": null}}},
{"data": {"name": "lab"}, "mark": {"type": "text", "fontSize": 6.5, "color": "black", "clip": true},
 "encoding": {"text": {"field": "t"}, "angle": {"field": "a", "type": "quantitative", "scale": null}}},
{"data": {"name": "arr"}, "mark": {"type": "rule", "color": "black", "strokeWidth": 2, "clip": true},
 "encoding": {"x2": {"field": "p2"}, "y2": {"field": "q2"}, "strokeDash": {"datum": "Payoff field", "type": "nominal"}}},
{"data": {"name": "arr"}, "mark": {"type": "point", "shape": "M0,0L-0.45,1L0.45,1Z", "size": 196, "filled": true, "color": "black", "opacity": 1, "strokeWidth": 0, "clip": true},
 "encoding": {"angle": {"field": "ang", "type": "quantitative", "scale": null}}},
{"data": {"name": "edge"}, "mark": {"type": "rule", "color": "black", "strokeWidth": 3.5, "strokeCap": "square"},
 "encoding": {"x2": {"field": "p2"}, "y2": {"field": "q2"}}},
{"data": {"name": "corner"}, "mark": {"type": "point", "shape": "M-1,1L0,0L1,1", "size": 605, "filled": false, "color": "black", "strokeWidth": 3.5, "opacity": 1},
 "encoding": {"angle": {"field": "ang", "type": "quantitative", "scale": null}}},
{"data": {"name": "txtb"}, "mark": {"type": "text", "fontSize": 18, "color": "black"}, "encoding": {"text": {"field": "t"}}},
{"data": {"name": "txtr"}, "mark": {"type": "text", "fontSize": 15, "color": "red"}, "encoding": {"text": {"field": "t"}}},
{"data": {"name": "cbt"}, "mark": {"type": "text", "fontSize": 10.2, "angle": 270, "color": "black"}, "encoding": {"text": {"field": "t"}}}
]
}
